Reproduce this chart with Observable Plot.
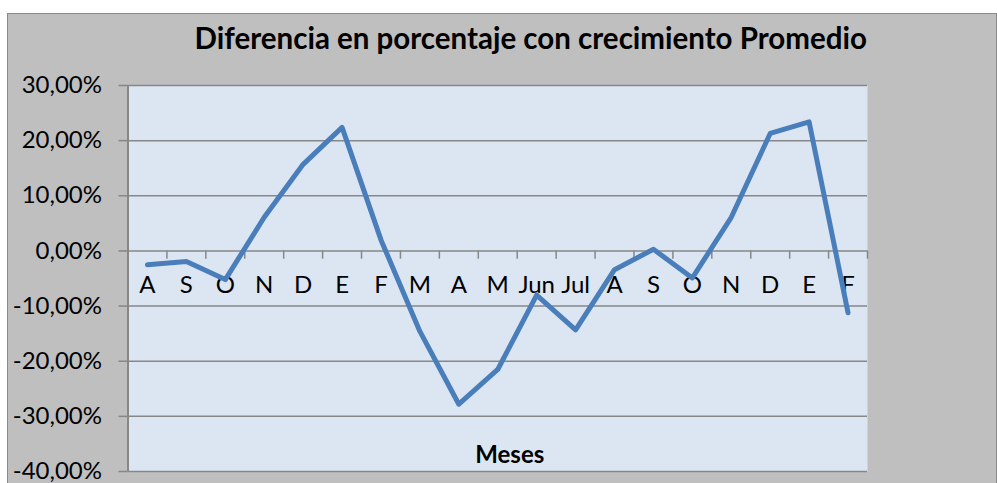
<!DOCTYPE html>
<html>
<head>
<meta charset="utf-8">
<script src="https://cdn.jsdelivr.net/npm/d3@7"></script>
<script src="https://cdn.jsdelivr.net/npm/@observablehq/plot@0.6"></script>
<style>
  html, body { margin: 0; padding: 0; background: #ffffff; }
  #chart {
    position: absolute; left: 7px; top: 13px;
    width: 988px; height: 480px;
    background: #BFBFBF; border: 1px solid #8a8a8a;
    overflow: hidden;
  }
</style>
</head>
<body>
<div id="chart"></div>
<script>
const title = "Diferencia en porcentaje con crecimiento Promedio";
const xTitle = "Meses";
const months = ["A","S","O","N","D","E","F","M","A","M","Jun","Jul","A","S","O","N","D","E","F"];
const values = [-2.5,-1.9,-5.2,6.1,15.7,22.4,2.0,-14.6,-27.8,-21.5,-8.0,-14.3,-3.4,0.3,-4.9,6.1,21.3,23.4,-11.2];
const yTicks = [-40,-30,-20,-10,0,10,20,30];

const data = months.map((m, i) => ({i, m, v: values[i]}));
const boundaries = months.map((m, i) => i + 0.5);
const fmt = d => d.toFixed(2).replace(".", ",") + "%";

const gridColor = "#878787";
const font = "Lato, 'Open Sans', sans-serif";

const plot = Plot.plot({
  width: 988,
  height: 469,
  marginLeft: 119.5,
  marginRight: 129,
  marginTop: 71,
  marginBottom: 12,
  style: {background: "transparent", fontFamily: font, fontSize: "24px", color: "#000", overflow: "visible"},
  x: {type: "linear", domain: [-0.5, months.length - 0.5], axis: null},
  y: {domain: [-40, 30], axis: null},
  marks: [
    Plot.frame({fill: "#DCE6F2", stroke: null}),
    Plot.gridY(yTicks, {stroke: gridColor, strokeOpacity: 1, strokeWidth: 1.5}),
    Plot.ruleX([-0.5], {stroke: gridColor, strokeWidth: 2}),
    Plot.axisY(yTicks, {label: null, tickSize: 9, tickPadding: 17, tickFormat: fmt, stroke: gridColor, strokeWidth: 1.5, fill: "#000", fontSize: 24}),
    Plot.ruleX(boundaries, {x: d => d, y1: 0, y2: -1.5, stroke: gridColor, strokeWidth: 1.5}),
    Plot.text(data, {x: "i", y: () => 0, text: "m", dy: 34, fill: "#000", fontSize: 24, lineAnchor: "middle"}),
    Plot.line(data, {x: "i", y: "v", stroke: "#4A7EBB", strokeWidth: 5, strokeLinejoin: "round", strokeLinecap: "round"}),
    Plot.text([xTitle], {frameAnchor: "bottom", text: d => d, dx: 12, dy: -9, fontWeight: "bold", fontSize: 24, fill: "#000", lineAnchor: "bottom"}),
    Plot.text([title], {frameAnchor: "top", text: d => d, dx: 33, dy: -46, fontWeight: "bold", fontSize: 29.5, fill: "#000", lineAnchor: "middle"})
  ]
});
document.getElementById("chart").appendChild(plot);
</script>
</body>
</html>
